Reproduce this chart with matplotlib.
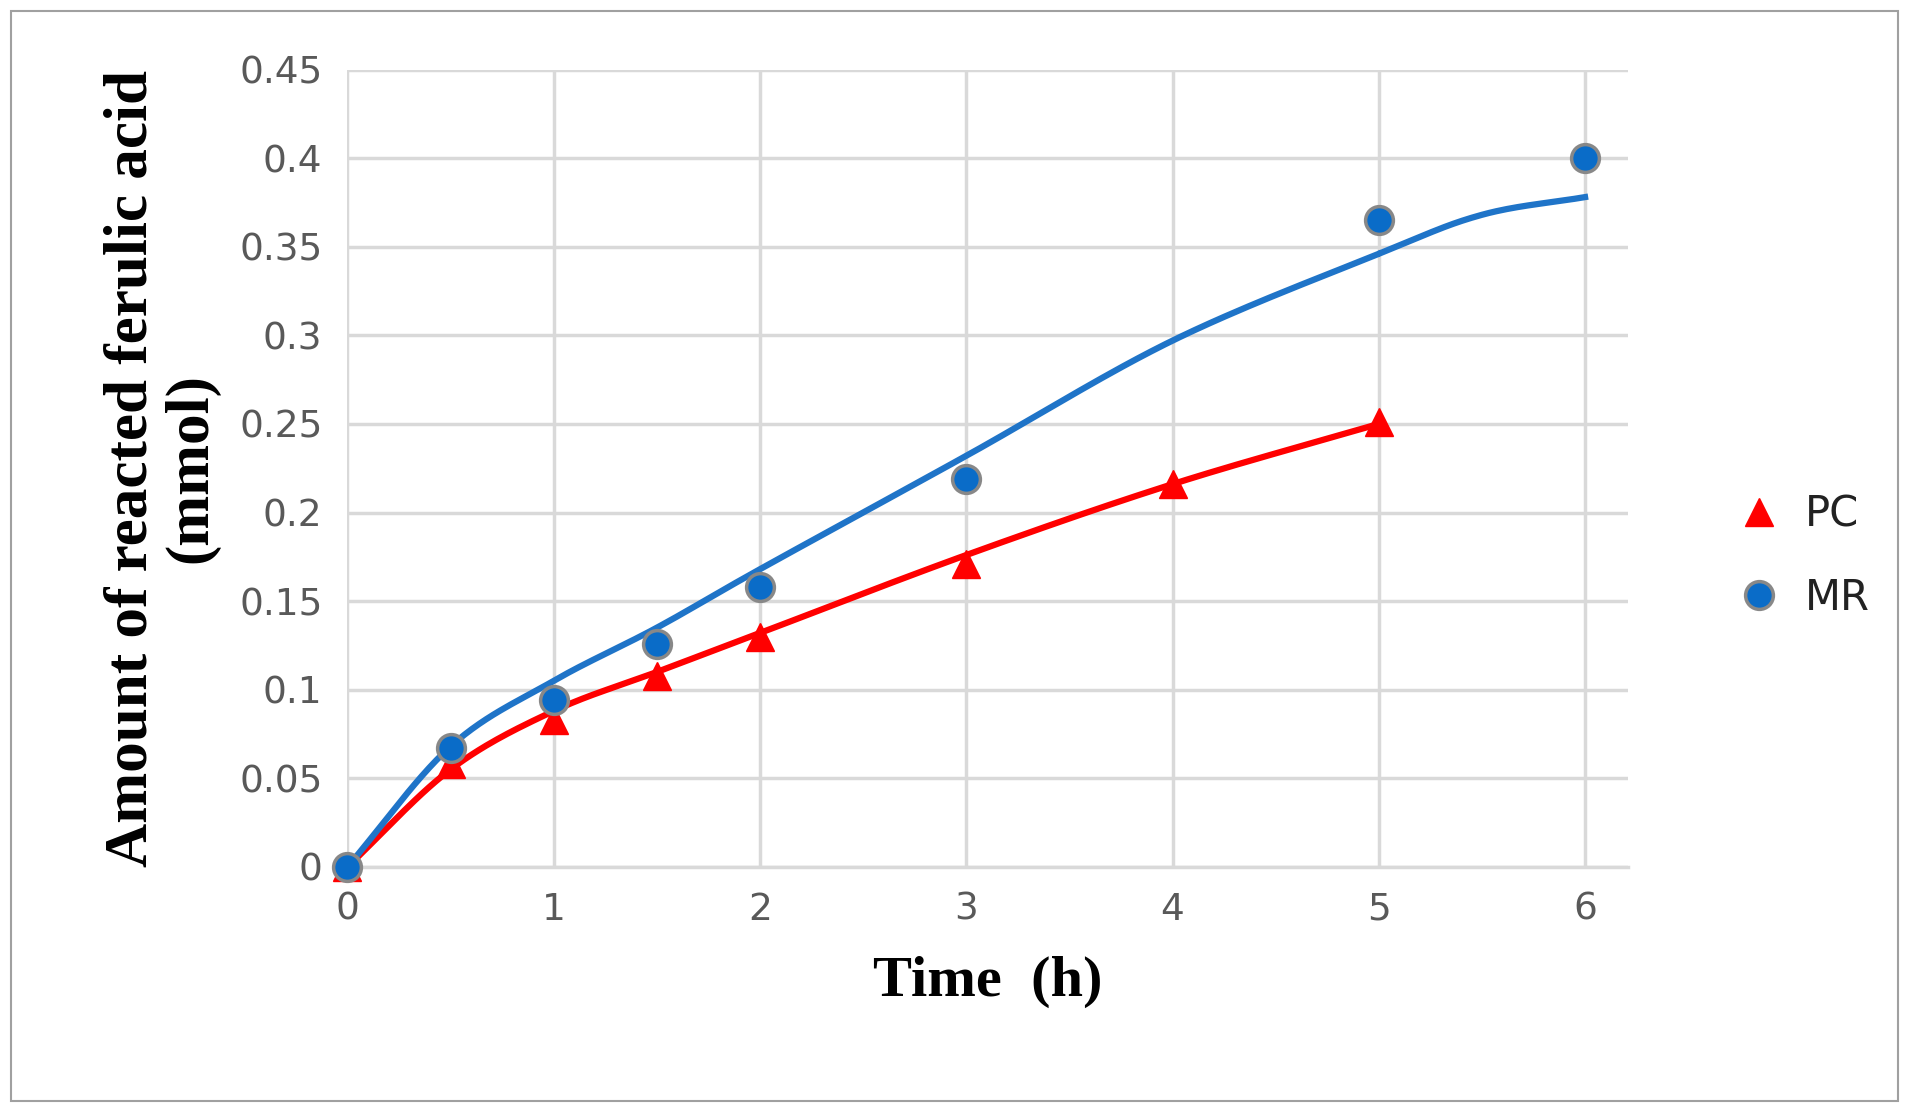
import matplotlib.pyplot as plt
import numpy as np
from matplotlib.patches import Rectangle

# measured points
pc_t = [0, 0.5, 1, 1.5, 2, 3, 4, 5]
pc_y = [0, 0.058, 0.083, 0.108, 0.130, 0.171, 0.216, 0.251]
mr_t = [0, 0.5, 1, 1.5, 2, 3, 5, 6]
mr_y = [0, 0.067, 0.094, 0.126, 0.158, 0.219, 0.365, 0.400]

# trend lines
pc_line_t = [0, 0.5, 1, 1.5, 2, 3, 4, 5]
pc_line_y = [0, 0.055, 0.088, 0.110, 0.132, 0.176, 0.216, 0.250]
mr_line_t = [0, 0.5, 1, 1.5, 2, 3, 4, 5, 5.5, 6]
mr_line_y = [0, 0.068, 0.105, 0.135, 0.168, 0.232, 0.297, 0.346, 0.368, 0.378]


def smooth(x, y, n=30):
    # catmull-rom style smoothing like Excel's smoothed line
    x = np.asarray(x, float)
    y = np.asarray(y, float)
    px = np.concatenate([[2 * x[0] - x[1]], x, [2 * x[-1] - x[-2]]])
    py = np.concatenate([[2 * y[0] - y[1]], y, [2 * y[-1] - y[-2]]])
    xs, ys = [], []
    for i in range(1, len(px) - 2):
        s = np.linspace(0, 1, n)
        for p, out in ((px, xs), (py, ys)):
            p0, p1, p2, p3 = p[i - 1:i + 3]
            out.extend(0.5 * (2 * p1 + (-p0 + p2) * s + (2 * p0 - 5 * p1 + 4 * p2 - p3) * s ** 2
                              + (-p0 + 3 * p1 - 3 * p2 + p3) * s ** 3))
    return xs, ys


fig = plt.figure(figsize=(19.09, 11.12), dpi=100)
ax = fig.add_axes([0.182, 0.2204, 0.671, 0.7171])
fig.patches.append(Rectangle((0.006, 0.01), 0.988, 0.98, transform=fig.transFigure,
                             fill=False, edgecolor='#a0a0a0', linewidth=1.5))

x, y = smooth(pc_line_t, pc_line_y)
ax.plot(x, y, color='#ff0000', linewidth=4.5, zorder=2)
x, y = smooth(mr_line_t, mr_line_y)
ax.plot(x, y, color='#1f74c8', linewidth=4.5, zorder=2)
ax.plot(pc_t, pc_y, '^', color='#ff0000', markersize=20, linestyle='none', label='PC', zorder=3, clip_on=False)
ax.plot(mr_t, mr_y, 'o', color='#0a6cc8', markeredgecolor='#888888', markeredgewidth=2.5,
        markersize=20, linestyle='none', label='MR', zorder=4, clip_on=False)

ax.set_xlim(0, 6.21)
ax.set_ylim(0, 0.45)
ax.set_xticks(range(7))
ax.set_yticks(np.arange(0, 0.451, 0.05))
ax.set_yticklabels(['0', '0.05', '0.1', '0.15', '0.2', '0.25', '0.3', '0.35', '0.4', '0.45'])
ax.grid(True, color='#d9d9d9', linewidth=2.5)
ax.set_axisbelow(True)
for s in ['top', 'right', 'left']:
    ax.spines[s].set_visible(False)
ax.spines['bottom'].set_color('#d9d9d9')
ax.spines['bottom'].set_linewidth(2.5)
ax.tick_params(length=0, labelsize=27, labelcolor='#595959', pad=18)

ax.set_xlabel('Time  (h)', fontsize=42, fontweight='bold', family='Liberation Serif', labelpad=20)
ax.set_ylabel('Amount of reacted ferulic acid\n(mmol)', fontsize=44, fontweight='bold',
              family='Liberation Serif', labelpad=14, linespacing=1.1)

ax.legend(loc='center left', bbox_to_anchor=(1.04, 0.39), frameon=False, fontsize=30,
          handletextpad=0.1, labelspacing=1.0, labelcolor='#222222')

fig.savefig('out.png', dpi=100)
